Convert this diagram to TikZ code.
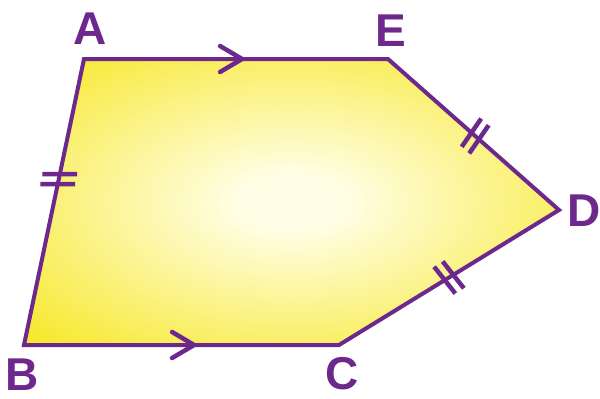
\documentclass[tikz,border=0pt]{standalone}
\usepackage{fontspec}
\setmainfont{Liberation Sans}
\usetikzlibrary{decorations.markings}
\definecolor{edgepurple}{RGB}{108,40,140}
\definecolor{fillyellow}{RGB}{247,232,45}
\definecolor{glowyellow}{RGB}{255,254,228}
\pgfdeclareradialshading{pentagonglow}{\pgfpoint{0bp}{0bp}}{color(0bp)=(glowyellow); color(5bp)=(glowyellow); color(34bp)=(fillyellow); color(50bp)=(fillyellow)}
\tikzset{
  side/.style={draw=edgepurple, line width=4pt, line join=miter},
  vertexlabel/.style={text=edgepurple, font=\fontsize{46}{50}\selectfont\bfseries, inner sep=0pt},
  parallelmark/.style={postaction={decorate}, decoration={markings, mark=at position #1 with {\draw[edgepurple, line width=4.5pt, line cap=round] (-22pt,-13pt) -- (0pt,0pt) -- (-22pt,13pt);}}},
  equalmark/.style 2 args={postaction={decorate}, decoration={markings, mark=at position #1 with {\draw[edgepurple, line width=4.5pt, xslant=#2] (-5pt,-17pt) -- (-5pt,17pt) (5pt,-17pt) -- (5pt,17pt);}}}
}
\begin{document}
\begin{tikzpicture}[x=1pt, y=-1pt]
  \useasboundingbox (0,0) rectangle (600,399);

  % vertices
  \coordinate (A) at (84,59);
  \coordinate (E) at (388,59);
  \coordinate (D) at (559,210);
  \coordinate (C) at (339,345);
  \coordinate (B) at (24,345);

  % pentagon
  \shade[shading=pentagonglow] (A) -- (E) -- (D) -- (C) -- (B) -- cycle;
  \draw[side] (A) -- (E) -- (D) -- (C) -- (B) -- cycle;

  % parallel arrows
  \path[parallelmark=0.52] (A) -- (E);
  \path[parallelmark=0.54] (B) -- (C);

  % equal sides
  \path[equalmark={0.42}{-0.21}] (A) -- (B);
  \path[equalmark={0.51}{-0.12}] (E) -- (D);
  \path[equalmark={0.5}{-0.12}] (D) -- (C);

  % labels
  \node[vertexlabel] (labelA) at (90,29) {A};
  \node[vertexlabel] (labelE) at (391,31) {E};
  \node[vertexlabel] (labelD) at (584,211) {D};
  \node[vertexlabel] (labelC) at (342,374) {C};
  \node[vertexlabel] (labelB) at (22,375) {B};
\end{tikzpicture}
\end{document}
